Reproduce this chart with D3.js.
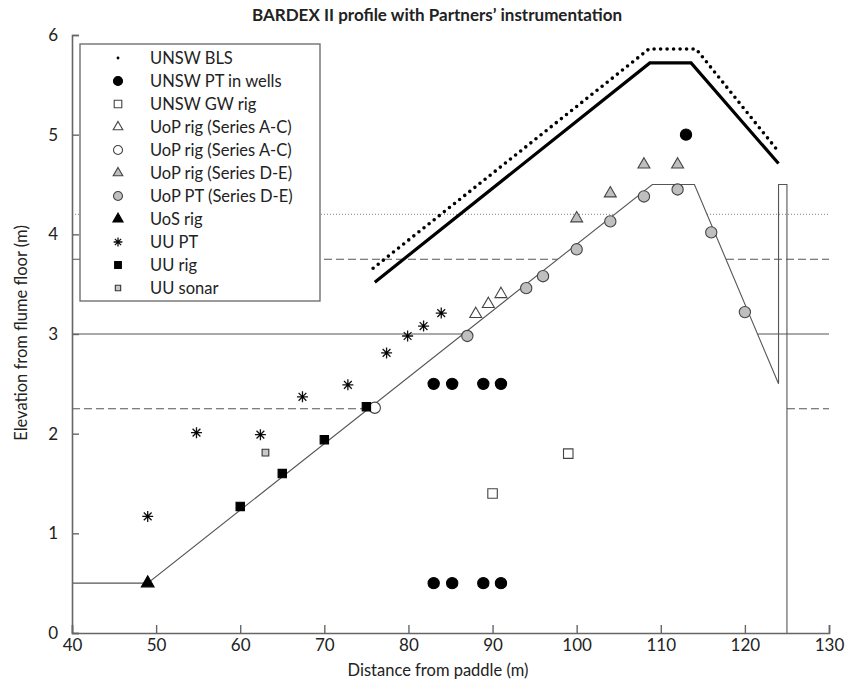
<!DOCTYPE html>
<html>
<head>
<meta charset="utf-8">
<script src="https://cdn.jsdelivr.net/npm/d3@7"></script>
<style>
  body { margin: 0; background: #fff; }
  svg text { font-family: Lato, "Noto Sans", sans-serif; fill: #222; }
</style>
</head>
<body>
<svg id="chart" width="845" height="680"></svg>
<script>
// flume bed profile, incl. the wall at the end
var bedX = [40, 49, 109, 114, 124, 124, 125, 125];
var bedY = [0.5, 0.5, 4.5, 4.5, 2.5, 4.5, 4.5, 0];

// upper profiles (thick solid and dotted BLS line)
var upperX = [76, 108.7, 113.6, 124];
var upperY = [3.52, 5.72, 5.72, 4.71];
var blsX = [75.8, 108.6, 114.2, 124];
var blsY = [3.66, 5.86, 5.86, 4.83];

// still water levels
var waterLevels = [2.25, 3.0, 3.75, 4.2];
var waterStyles = ["dash", "solid", "dash", "dot"];

// instruments
var wellsX = [83, 85.2, 88.9, 91, 83, 85.2, 88.9, 91, 113];
var wellsY = [2.5, 2.5, 2.5, 2.5, 0.5, 0.5, 0.5, 0.5, 5.0];
var gwRigX = [90, 99];
var gwRigY = [1.4, 1.8];
var uopTriAX = [88, 89.5, 91];
var uopTriAY = [3.2, 3.3, 3.4];
var uopCircAX = [76];
var uopCircAY = [2.26];
var uopTriDX = [100, 104, 108, 112];
var uopTriDY = [4.16, 4.41, 4.7, 4.7];
var uopPtX = [87, 94, 96, 100, 104, 108, 112, 116, 120];
var uopPtY = [2.98, 3.46, 3.58, 3.85, 4.13, 4.38, 4.45, 4.02, 3.22];
var uosX = [49];
var uosY = [0.5];
var uuPtX = [49, 54.8, 62.4, 67.4, 72.8, 77.4, 79.9, 81.8, 83.9];
var uuPtY = [1.17, 2.01, 1.99, 2.37, 2.49, 2.81, 2.98, 3.08, 3.21];
var uuRigX = [60, 65, 70, 75];
var uuRigY = [1.27, 1.6, 1.94, 2.27];
var uuSonarX = [63];
var uuSonarY = [1.81];

var legendLabels = ["UNSW BLS", "UNSW PT in wells", "UNSW GW rig", "UoP rig (Series A-C)",
  "UoP rig (Series A-C)", "UoP rig (Series D-E)", "UoP PT (Series D-E)", "UoS rig",
  "UU PT", "UU rig", "UU sonar"];

var xTicks = [40, 50, 60, 70, 80, 90, 100, 110, 120, 130];
var yTicks = [0, 1, 2, 3, 4, 5, 6];

var margin = {top: 35, right: 16, bottom: 47, left: 72};
var width = 845 - margin.left - margin.right;
var height = 680 - margin.top - margin.bottom;

var svg = d3.select("svg#chart");
var g = svg.append("g").attr("transform", "translate(" + margin.left + "," + margin.top + ")");

var x = d3.scaleLinear().domain([40, 130]).range([0, width]);
var y = d3.scaleLinear().domain([0, 6]).range([height, 0]);

function zip(xs, ys) {
  return xs.map(function (v, i) { return [v, ys[i]]; });
}

var line = d3.line()
  .x(function (d) { return x(d[0]); })
  .y(function (d) { return y(d[1]); });

// where a water level crosses the bed
function crossings(level) {
  var out = [];
  for (var i = 0; i < bedX.length - 1; i++) {
    var y0 = bedY[i], y1 = bedY[i + 1];
    if ((level - y0) * (level - y1) <= 0 && y0 != y1) {
      out.push(bedX[i] + (level - y0) / (y1 - y0) * (bedX[i + 1] - bedX[i]));
    }
  }
  return out;
}

// water level lines
var dashes = {dash: "8,4", solid: null, dot: "1,2"};
waterLevels.forEach(function (lev, i) {
  var c = crossings(lev);
  var segs = [[40, c[0]], [c[1], 130]];
  g.append("g").selectAll("line")
    .data(segs)
    .enter()
    .append("line")
    .attr("x1", function (d) { return x(d[0]); })
    .attr("x2", function (d) { return x(d[1]); })
    .attr("y1", y(lev))
    .attr("y2", y(lev))
    .attr("stroke", waterStyles[i] == "dot" ? "#999" : "#555")
    .attr("stroke-width", 1.2)
    .attr("stroke-dasharray", dashes[waterStyles[i]]);
});

// bed profile
g.append("path")
  .attr("d", line(zip(bedX, bedY)))
  .attr("fill", "none")
  .attr("stroke", "#555")
  .attr("stroke-width", 1.1);

// thick upper line
g.append("path")
  .attr("d", line(zip(upperX, upperY)))
  .attr("fill", "none")
  .attr("stroke", "#000")
  .attr("stroke-width", 3.2);

// BLS dotted line
g.append("path")
  .attr("d", line(zip(blsX, blsY)))
  .attr("fill", "none")
  .attr("stroke", "#000")
  .attr("stroke-width", 3.6)
  .attr("stroke-linecap", "round")
  .attr("stroke-dasharray", "0,6.5");

// axes
var xAxis = d3.axisBottom(x).tickValues(xTicks).tickSize(-8).tickPadding(6);
var yAxis = d3.axisLeft(y).tickValues(yTicks).tickSize(-7).tickPadding(14).tickFormat(d3.format("d"));

var gx = g.append("g").attr("transform", "translate(0," + height + ")").call(xAxis);
var gy = g.append("g").call(yAxis);
[gx, gy].forEach(function (a) {
  a.select(".domain").attr("stroke", "#666").attr("stroke-width", 1.6);
  a.selectAll(".tick line").attr("stroke", "#666").attr("stroke-width", 1.4);
  a.selectAll(".tick text").style("font-size", "17px").attr("fill", "#222");
});

// marker shapes
function asterisk(r) {
  var p = "";
  for (var k = 0; k < 4; k++) {
    var a = k * Math.PI / 4;
    p += "M" + (-r * Math.cos(a)) + "," + (-r * Math.sin(a)) + "L" + (r * Math.cos(a)) + "," + (r * Math.sin(a));
  }
  return p;
}

var markerDefs = [
  {xs: [], ys: [], shape: "dot"},
  {xs: wellsX, ys: wellsY, shape: d3.symbolCircle, size: 100, fill: "#000", stroke: "#000"},
  {xs: gwRigX, ys: gwRigY, shape: d3.symbolSquare, size: 90, fill: "#fff", stroke: "#444"},
  {xs: uopTriAX, ys: uopTriAY, shape: d3.symbolTriangle, size: 62, fill: "#fff", stroke: "#444"},
  {xs: uopCircAX, ys: uopCircAY, shape: d3.symbolCircle, size: 100, fill: "#fff", stroke: "#444"},
  {xs: uopTriDX, ys: uopTriDY, shape: d3.symbolTriangle, size: 62, fill: "#bfbfbf", stroke: "#444"},
  {xs: uopPtX, ys: uopPtY, shape: d3.symbolCircle, size: 100, fill: "#bfbfbf", stroke: "#444"},
  {xs: uosX, ys: uosY, shape: d3.symbolTriangle, size: 70, fill: "#000", stroke: "#000"},
  {xs: uuPtX, ys: uuPtY, shape: "star", size: 5.5, fill: "none", stroke: "#111"},
  {xs: uuRigX, ys: uuRigY, shape: d3.symbolSquare, size: 70, fill: "#000", stroke: "#000"},
  {xs: uuSonarX, ys: uuSonarY, shape: d3.symbolSquare, size: 45, fill: "#c8c8c8", stroke: "#333"}
];

function drawMarker(sel, m, scale) {
  if (m.shape == "dot") {
    sel.append("circle").attr("r", 1.8 * scale).attr("fill", "#000");
  } else if (m.shape == "star") {
    sel.append("path").attr("d", asterisk(m.size * scale))
      .attr("stroke", m.stroke).attr("stroke-width", 1.3).attr("fill", "none");
    sel.append("circle").attr("r", 1.3 * scale).attr("fill", "#000");
  } else {
    sel.append("path").attr("d", d3.symbol().type(m.shape).size(m.size * scale * scale)())
      .attr("fill", m.fill).attr("stroke", m.stroke).attr("stroke-width", 1.1);
  }
}

markerDefs.forEach(function (m) {
  g.append("g")
    .selectAll("g")
    .data(zip(m.xs, m.ys))
    .enter()
    .append("g")
    .attr("transform", function (d) { return "translate(" + x(d[0]) + "," + y(d[1]) + ")"; })
    .each(function () { drawMarker(d3.select(this), m, 1); });
});

// legend
var legend = g.append("g").attr("transform", "translate(" + (80 - margin.left) + "," + (44 - margin.top) + ")");
legend.append("rect")
  .attr("width", 240)
  .attr("height", 257)
  .attr("fill", "#fff")
  .attr("stroke", "#666")
  .attr("stroke-width", 1.3);
var items = legend.selectAll("g.item")
  .data(legendLabels)
  .enter()
  .append("g")
  .attr("class", "item")
  .attr("transform", function (d, i) { return "translate(38," + (14 + i * 23) + ")"; });
items.each(function (d, i) { drawMarker(d3.select(this), markerDefs[i], 0.8); });
items.append("text")
  .attr("x", 32)
  .attr("dy", "0.35em")
  .style("font-size", "16.5px")
  .text(function (d) { return d; });

// titles
svg.append("text")
  .attr("x", 437)
  .attr("y", 21)
  .attr("text-anchor", "middle")
  .style("font-size", "17px")
  .style("font-weight", "bold")
  .text("BARDEX II profile with Partners\u2019 instrumentation");

svg.append("text")
  .attr("x", 438)
  .attr("y", 676)
  .attr("text-anchor", "middle")
  .style("font-size", "16.5px")
  .text("Distance from paddle (m)");

svg.append("text")
  .attr("transform", "translate(27,333) rotate(-90)")
  .attr("text-anchor", "middle")
  .style("font-size", "16.5px")
  .text("Elevation from flume floor (m)");
</script>
</body>
</html>
